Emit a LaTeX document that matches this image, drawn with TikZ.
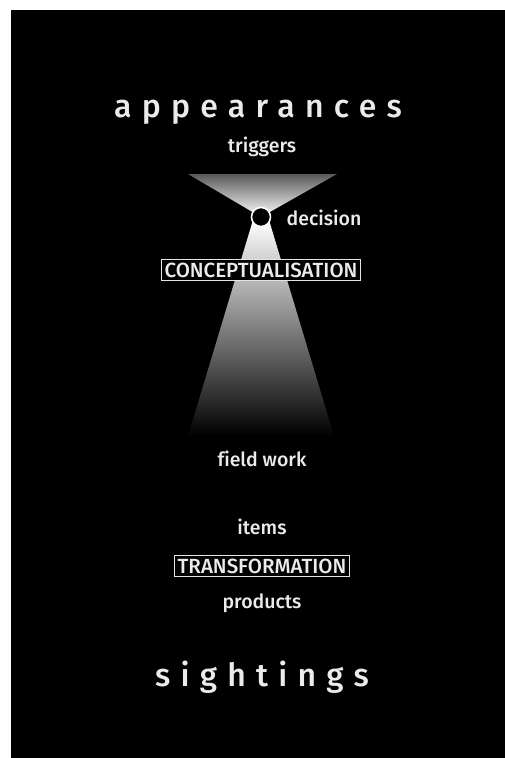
\documentclass[tikz,border=0pt]{standalone}
\usepackage{fontspec}
\setmainfont{Fira Sans Medium}[Ligatures=NoCommon]
\newfontfamily\widefont{Fira Sans Medium}[LetterSpace=32,Ligatures=NoCommon]
\begin{document}
\begin{tikzpicture}[x=1pt,y=-1pt,
    every node/.style={text=white!92!black},
    word/.style={font=\fontsize{19.5}{22}\selectfont},
    title/.style={font=\widefont\fontsize{32}{36}\selectfont},
    stage/.style={draw=white!90!black,fill=black,line width=1pt,
      inner xsep=3pt,inner ysep=3.5pt,font=\fontsize{20.5}{22}\selectfont}]
  \useasboundingbox (0,0) rectangle (505,758);
  \fill[black] (11,10) rectangle (505,758);
  \coordinate (apex) at (261,217);
  \shade[top color=white!35!black,bottom color=white]
    (188,174) -- (337,174) -- (apex) -- cycle;
  \shade[top color=white,bottom color=black]
    (253,220) -- (269,220) -- (334,436) -- (188,436) -- cycle;
  \node[title] (appear) at (258,112) {appearances};
  \node[word] (trig) at (262,147) {triggers};
  \node[circle,draw=white,fill=black,line width=1.5pt,minimum size=19pt,
    inner sep=0pt] (dec) at (apex) {};
  \node[word] (decl) at (324,218) {decision};
  \node[stage] (concept) at (261,270) {CONCEPTUALISATION};
  \node[word] (field) at (262,459) {field work};
  \node[word] (items) at (262,527) {items};
  \node[stage] (transf) at (262,566) {TRANSFORMATION};
  \node[word] (prod) at (262,603) {products};
  \node[title] (sight) at (262,677) {sightings};
\end{tikzpicture}
\end{document}
